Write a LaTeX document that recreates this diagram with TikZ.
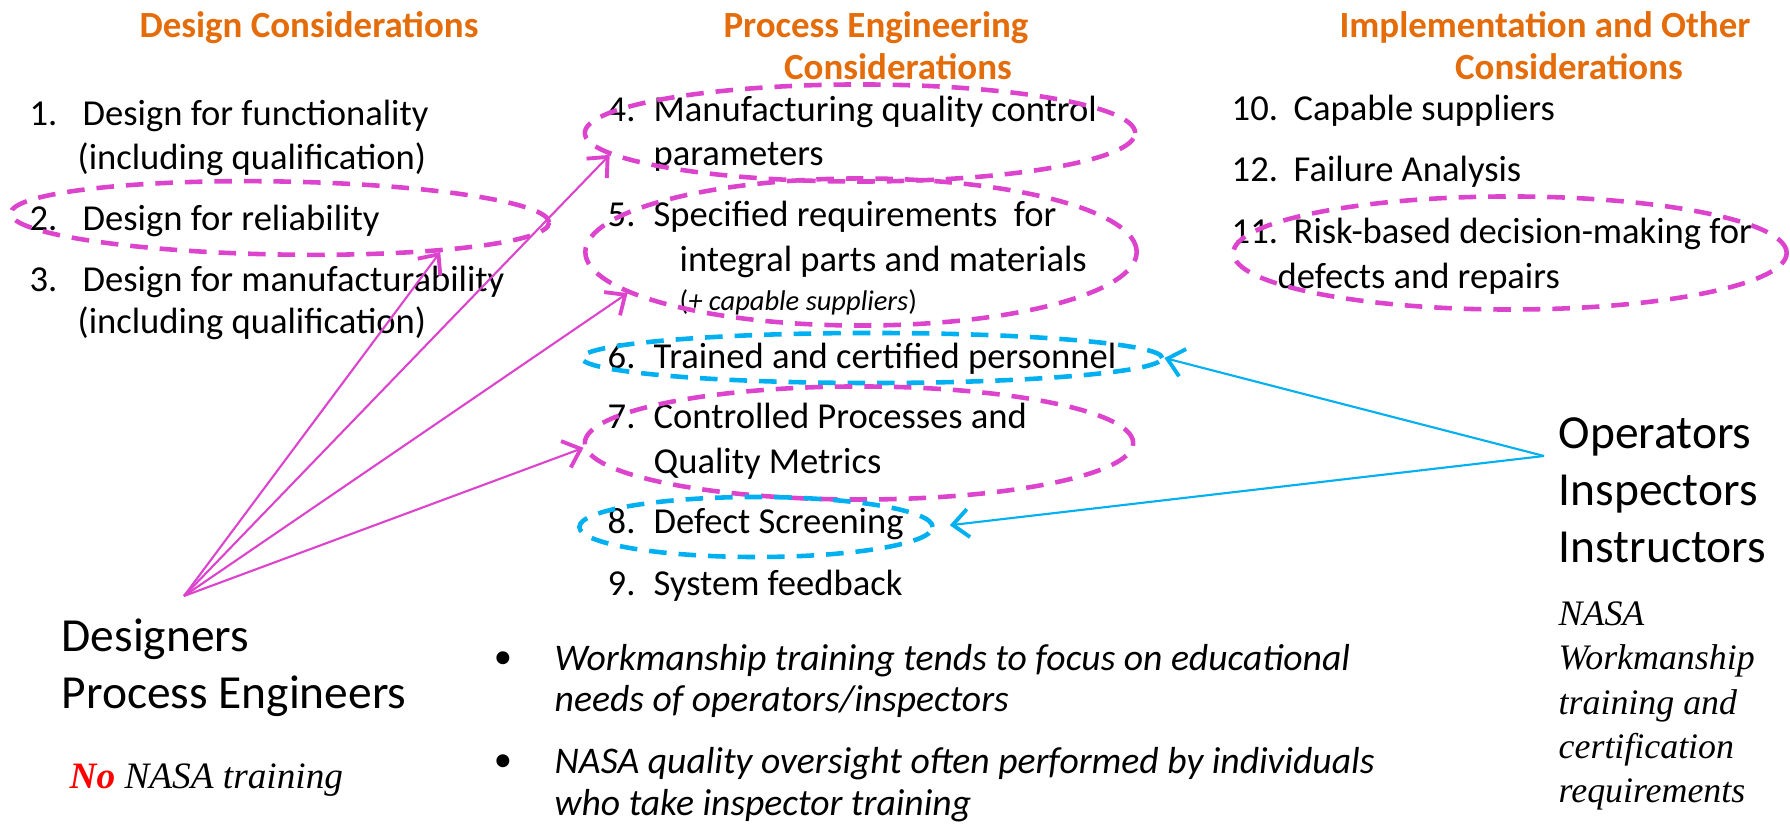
\documentclass[tikz,border=0pt]{standalone}
\usepackage{fontspec}
\setmainfont{Carlito}
\newfontfamily\serifit{Liberation Serif}
\usepackage{tikz}
\usetikzlibrary{shapes.geometric,arrows.meta,positioning}
\definecolor{headorange}{RGB}{228,108,10}
\definecolor{ringpink}{RGB}{221,68,206}
\definecolor{ringblue}{RGB}{0,176,240}
\definecolor{nored}{RGB}{255,0,0}
\tikzset{
        headtxt/.style = {text=headorange, align=center, inner sep=0pt,
            font=\bfseries\fontsize{10.5}{11.9}\selectfont},
        numtxt/.style = {anchor=west, inner sep=0pt,
            text height=0.7em, text depth=0.2em,
            font=\fontsize{10.4}{12.5}\selectfont},
        itemtxt/.style = {numtxt},
        ring/.style = {ellipse, inner sep=0pt, line width=1.3pt,
            dash pattern=on 5pt off 3.4pt},
        pinkring/.style = {ring, draw=ringpink},
        bluering/.style = {ring, draw=ringblue},
        pinkarrow/.style = {draw=ringpink, line width=0.6pt,
            -{Straight Barb[length=4.5pt,width=8pt,line width=1.1pt]}},
        bluearrow/.style = {pinkarrow, draw=ringblue},
        roletxt/.style = {anchor=west, inner sep=0pt, align=left,
            font=\fontsize{13.5}{16.2}\selectfont},
        notetxt/.style = {anchor=west, inner sep=0pt, align=left,
            font=\serifit\itshape\fontsize{10.2}{12.6}\selectfont},
        bullettxt/.style = {anchor=west, inner sep=0pt, align=left,
            font=\itshape\fontsize{10.7}{11.9}\selectfont},
    }

\begin{document}
\begin{tikzpicture}[x=0.01cm, y=-0.01cm]
\useasboundingbox (0,0) rectangle (1790,825);

% headings
\node[headtxt] (hdesign) at (309,28) {Design Considerations};
\node[headtxt] (hproc) at (876,46) {Process Engineering\\\hspace*{0.44cm}Considerations};
\node[headtxt] (himpl) at (1545,46) {Implementation and Other\\\hspace*{0.48cm}Considerations};

% design column
\node[numtxt] (n1) at (29,117) {1.};
\node[itemtxt] (t1) at (82,117) {Design for functionality};
\node[itemtxt] (t1b) at (77,161) {(including qualification)};
\node[numtxt] (n2) at (29,222) {2.};
\node[itemtxt] (t2) at (82,222) {Design for reliability};
\node[numtxt] (n3) at (29,283) {3.};
\node[itemtxt] (t3) at (82,283) {Design for manufacturability};
\node[itemtxt] (t3b) at (77,325) {(including qualification)};

% process column
\node[numtxt] (n4) at (607,113) {4.};
\node[itemtxt] (t4) at (653,113) {Manufacturing quality control};
\node[itemtxt] (t4b) at (653,157) {parameters};
\node[numtxt] (n5) at (607,218) {5.};
\node[itemtxt] (t5) at (653,218) {Specified requirements\ \ for};
\node[itemtxt] (t5b) at (679,263) {integral parts and materials};
\node[anchor=west, inner sep=0pt, font=\fontsize{8.1}{9}\selectfont] (t5c) at (679,302) {(\textit{+ capable suppliers})};
\node[numtxt] (n6) at (607,360) {6.};
\node[itemtxt] (t6) at (653,360) {Trained and certified personnel};
\node[numtxt] (n7) at (607,420) {7.};
\node[itemtxt] (t7) at (653,420) {Controlled Processes and};
\node[itemtxt] (t7b) at (653,465) {Quality Metrics};
\node[numtxt] (n8) at (607,525) {8.};
\node[itemtxt] (t8) at (653,525) {Defect Screening};
\node[numtxt] (n9) at (607,587) {9.};
\node[itemtxt] (t9) at (653,587) {System feedback};

% other column
\node[numtxt] (n10) at (1231,112) {10.};
\node[itemtxt] (t10) at (1293,112) {Capable suppliers};
\node[numtxt] (n12) at (1231,173) {12.};
\node[itemtxt] (t12) at (1293,173) {Failure Analysis};
\node[numtxt] (n11) at (1231,235) {11.};
\node[itemtxt] (t11) at (1293,235) {Risk-based decision-making for};
\node[itemtxt] (t11b) at (1277,280) {defects and repairs};

% dashed rings
\node[pinkring, minimum width=5.38cm, minimum height=0.73cm, rotate=-1] (e2) at (280,218) {};
\node[pinkring, minimum width=5.50cm, minimum height=0.97cm] (e4) at (860,133) {};
\node[pinkring, minimum width=5.51cm, minimum height=1.47cm] (e5) at (861,252) {};
\node[bluering, minimum width=5.80cm, minimum height=0.50cm] (e6) at (872,358) {};
\node[pinkring, minimum width=5.48cm, minimum height=1.13cm] (e7) at (859,443) {};
\node[bluering, minimum width=3.53cm, minimum height=0.60cm] (e8) at (756,527) {};
\node[pinkring, minimum width=5.53cm, minimum height=1.13cm] (e11) at (1510,253) {};

% people
\node[roletxt] (design) at (61,668) {Designers\\Process Engineers};
\node[notetxt, font=\serifit\itshape\fontsize{10.6}{12.6}\selectfont] (notrain) at (69,780) {{\bfseries\color{nored}No} NASA training};
\node[roletxt] (ops) at (1558,490) {Operators\\Inspectors\\Instructors};
\node[notetxt] (nasa) at (1558,706) {NASA\\Workmanship\\training and\\certification\\requirements};

% remarks
\node[anchor=center, inner sep=0pt, font=\fontsize{10.4}{12}\selectfont] (d1) at (503,660) {\textbullet};
\node[bullettxt] (b1) at (554,681) {Workmanship training tends to focus on educational\\needs of operators/inspectors};
\node[anchor=center, inner sep=0pt, font=\fontsize{10.4}{12}\selectfont] (d2) at (503,763) {\textbullet};
\node[bullettxt] (b2) at (554,785) {NASA quality oversight often performed by individuals\\who take inspector training};

% connectors
\coordinate (dsrc) at (184,596);
\coordinate (osrc) at (1544,456);
\draw[pinkarrow] (dsrc) -- (e4.185);
\draw[pinkarrow] (dsrc) -- (e2.349);
\draw[pinkarrow] (dsrc) -- (e5.190);
\draw[pinkarrow] (dsrc) -- (e7.181);
\draw[bluearrow] (osrc) -- (e6.east);
\draw[bluearrow, shorten >=0.15cm] (osrc) -- (e8.east);
\end{tikzpicture}
\end{document}
